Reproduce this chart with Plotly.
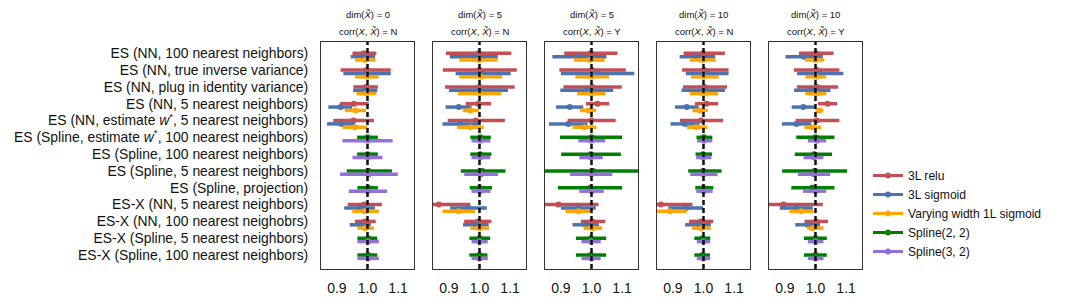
import plotly.graph_objects as go
from plotly.subplots import make_subplots

row_labels = [
    "ES (NN, 100 nearest neighbors)",
    "ES (NN, true inverse variance)",
    "ES (NN, plug in identity variance)",
    "ES (NN, 5 nearest neighbors)",
    "ES (NN, estimate <i>w</i><sup>*</sup>, 5 nearest neighbors)",
    "ES (Spline, estimate <i>w</i><sup>*</sup>, 100 nearest neighbors)",
    "ES (Spline, 100 nearest neighbors)",
    "ES (Spline, 5 nearest neighbors)",
    "ES (Spline, projection)",
    "ES-X (NN, 5 nearest neighbors)",
    "ES-X (NN, 100 nearest neighobrs)",
    "ES-X (Spline, 5 nearest neighbors)",
    "ES-X (Spline, 100 nearest neighbors)",
]
panel_dim = ["0", "5", "5", "10", "10"]
panel_corr = ["N", "N", "Y", "N", "Y"]
nn_rows = [0, 1, 2, 3, 4, 9, 10]
spline_rows = [5, 6, 7, 8, 11, 12]
x_ticks = [0.9, 1.0, 1.1]
x_ticklabels = ["0.9", "1.0", "1.1"]

# ---- 3L relu (NN rows), one list per panel ----
relu_mean = [
    [0.989, 0.997, 0.995, 0.955, 0.954, 0.989, 0.991],
    [0.997, 1.000, 1.000, 0.996, 0.988, 0.867, 0.995],
    [0.997, 1.002, 1.002, 1.020, 0.999, 0.892, 1.002],
    [0.999, 1.002, 1.003, 1.010, 0.992, 0.861, 0.991],
    [1.002, 1.004, 1.005, 1.039, 1.004, 0.896, 1.002],
]
relu_lo = [
    [0.951, 0.912, 0.954, 0.910, 0.888, 0.935, 0.959],
    [0.890, 0.880, 0.887, 0.955, 0.896, 0.760, 0.950],
    [0.911, 0.895, 0.908, 0.982, 0.922, 0.800, 0.965],
    [0.935, 0.930, 0.933, 0.972, 0.923, 0.800, 0.953],
    [0.946, 0.929, 0.939, 1.008, 0.935, 0.820, 0.964],
]
relu_hi = [
    [1.029, 1.076, 1.034, 1.004, 1.021, 1.047, 1.027],
    [1.104, 1.122, 1.115, 1.038, 1.083, 0.970, 1.039],
    [1.085, 1.112, 1.099, 1.058, 1.079, 1.023, 1.045],
    [1.070, 1.082, 1.077, 1.048, 1.064, 0.964, 1.032],
    [1.059, 1.078, 1.074, 1.071, 1.078, 1.024, 1.041],
]

# ---- 3L sigmoid ----
sig_mean = [
    [0.983, 0.997, 0.992, 0.912, 0.915, 0.973, 0.975],
    [0.983, 1.011, 0.997, 0.932, 0.937, 0.964, 0.988],
    [0.960, 1.021, 0.985, 0.929, 0.924, 0.958, 0.980],
    [0.978, 1.013, 0.998, 0.945, 0.940, 0.943, 0.982],
    [0.962, 1.015, 0.989, 0.960, 0.938, 0.939, 0.975],
]
sig_lo = [
    [0.945, 0.921, 0.953, 0.872, 0.868, 0.924, 0.942],
    [0.903, 0.922, 0.900, 0.889, 0.879, 0.904, 0.946],
    [0.872, 0.900, 0.898, 0.884, 0.861, 0.900, 0.938],
    [0.922, 0.942, 0.928, 0.907, 0.892, 0.885, 0.940],
    [0.902, 0.940, 0.930, 0.922, 0.890, 0.883, 0.934],
]
sig_hi = [
    [1.025, 1.076, 1.032, 0.950, 0.959, 1.024, 1.011],
    [1.060, 1.102, 1.093, 0.974, 0.997, 1.024, 1.030],
    [1.049, 1.140, 1.071, 0.973, 0.987, 1.014, 1.024],
    [1.038, 1.082, 1.070, 0.984, 0.987, 0.999, 1.024],
    [1.024, 1.091, 1.049, 0.999, 0.986, 0.991, 1.015],
]

# ---- Varying width 1L sigmoid ----
vw_mean = [
    [0.993, 0.999, 0.997, 0.961, 0.959, 0.991, 0.993],
    [0.999, 1.004, 1.000, 0.970, 0.970, 0.932, 1.000],
    [0.995, 1.000, 1.000, 0.989, 0.977, 0.958, 1.003],
    [0.998, 1.001, 1.000, 0.988, 0.977, 0.891, 0.993],
    [1.000, 1.002, 1.002, 1.013, 0.990, 0.953, 0.991],
]
vw_lo = [
    [0.959, 0.959, 0.964, 0.926, 0.918, 0.950, 0.967],
    [0.934, 0.934, 0.930, 0.945, 0.927, 0.879, 0.970],
    [0.943, 0.947, 0.953, 0.962, 0.938, 0.915, 0.975],
    [0.955, 0.959, 0.955, 0.964, 0.946, 0.830, 0.962],
    [0.966, 0.967, 0.967, 1.000, 0.964, 0.915, 0.973],
]
vw_hi = [
    [1.026, 1.037, 1.029, 0.995, 0.999, 1.037, 1.021],
    [1.059, 1.074, 1.071, 0.998, 1.014, 0.985, 1.032],
    [1.043, 1.057, 1.046, 1.016, 1.016, 0.999, 1.035],
    [1.040, 1.050, 1.048, 1.014, 1.013, 0.945, 1.024],
    [1.029, 1.035, 1.035, 1.026, 1.018, 0.993, 1.026],
]

# ---- Spline(2, 2) (spline rows) ----
s22_mean = [
    [1.000, 1.000, 1.004, 1.002, 1.002, 1.002],
    [1.002, 1.002, 1.009, 1.000, 1.000, 1.000],
    [1.000, 0.998, 1.005, 0.996, 0.998, 0.998],
    [1.001, 0.999, 0.999, 1.000, 0.997, 0.997],
    [1.000, 0.995, 0.997, 0.989, 1.000, 1.000],
]
s22_lo = [
    [0.966, 0.966, 0.932, 0.967, 0.967, 0.967],
    [0.970, 0.970, 0.939, 0.968, 0.967, 0.967],
    [0.897, 0.901, 0.820, 0.890, 0.949, 0.949],
    [0.977, 0.974, 0.950, 0.973, 0.970, 0.970],
    [0.937, 0.932, 0.891, 0.921, 0.962, 0.962],
]
s22_hi = [
    [1.034, 1.034, 1.080, 1.034, 1.032, 1.032],
    [1.037, 1.039, 1.085, 1.041, 1.035, 1.026],
    [1.100, 1.096, 1.190, 1.100, 1.048, 1.048],
    [1.029, 1.028, 1.059, 1.032, 1.022, 1.021],
    [1.062, 1.054, 1.103, 1.062, 1.037, 1.037],
]

# ---- Spline(3, 2) ----
s32_mean = [
    [1.000, 1.000, 1.004, 1.000, 1.002, 1.002],
    [1.002, 1.002, 1.005, 1.002, 1.000, 1.000],
    [1.000, 0.998, 1.000, 1.000, 0.998, 1.000],
    [1.001, 0.999, 1.000, 1.000, 0.999, 0.999],
    [1.004, 0.995, 0.995, 1.000, 1.000, 1.000],
]
s32_lo = [
    [0.918, 0.951, 0.910, 0.939, 0.967, 0.967],
    [0.974, 0.974, 0.950, 0.974, 0.974, 0.974],
    [0.957, 0.960, 0.930, 0.960, 0.967, 0.967],
    [0.979, 0.976, 0.957, 0.976, 0.978, 0.978],
    [0.975, 0.961, 0.942, 0.959, 0.975, 0.975],
]
s32_hi = [
    [1.082, 1.049, 1.099, 1.064, 1.037, 1.037],
    [1.035, 1.035, 1.061, 1.036, 1.027, 1.027],
    [1.045, 1.037, 1.068, 1.040, 1.030, 1.030],
    [1.029, 1.026, 1.046, 1.030, 1.022, 1.022],
    [1.035, 1.026, 1.048, 1.035, 1.026, 1.026],
]

series = [
    ("3L relu", "#C44E52", nn_rows, 0, relu_mean, relu_lo, relu_hi),
    ("3L sigmoid", "#4C72B0", nn_rows, 1, sig_mean, sig_lo, sig_hi),
    ("Varying width 1L sigmoid", "#FFA500", nn_rows, 2, vw_mean, vw_lo, vw_hi),
    ("Spline(2, 2)", "#008000", spline_rows, 0, s22_mean, s22_lo, s22_hi),
    ("Spline(3, 2)", "#9370DB", spline_rows, 1, s32_mean, s32_lo, s32_hi),
]

FONT = "Liberation Sans, Arial, sans-serif"
fig = make_subplots(rows=1, cols=5, shared_yaxes=True, horizontal_spacing=19 / 541)

for p in range(5):
    for name, color, rows, k, mean, lo, hi in series:
        m = mean[p]
        ys = [r + 0.2 * k for r in rows]
        fig.add_trace(
            go.Scatter(
                x=m, y=ys, mode="markers",
                marker=dict(color=color, size=6),
                error_x=dict(type="data", symmetric=False,
                             array=[h - v for h, v in zip(hi[p], m)],
                             arrayminus=[v - l for v, l in zip(m, lo[p])],
                             color=color, thickness=3.5, width=0),
                showlegend=False, hoverinfo="skip",
            ),
            row=1, col=p + 1,
        )
    ax = "" if p == 0 else str(p + 1)
    fig.add_shape(type="line", xref="x" + ax, yref="y" + ax + " domain",
                  x0=1.0, x1=1.0, y0=0, y1=1, layer="above",
                  line=dict(color="#111111", width=2.5, dash="5px,3px"))
    fig.add_annotation(xref="x" + ax + " domain", yref="paper", x=0.5, y=1.119,
                       text="dim(<i>X̃</i>) = " + panel_dim[p], showarrow=False,
                       yanchor="middle", font=dict(size=9.5, color="#111", family=FONT))
    fig.add_annotation(xref="x" + ax + " domain", yref="paper", x=0.5, y=1.048,
                       text="corr(<i>X</i>, <i>X̃</i>) = " + panel_corr[p], showarrow=False,
                       yanchor="middle", font=dict(size=9.5, color="#111", family=FONT))

for name, color, rows, k, mean, lo, hi in series:
    fig.add_trace(go.Scatter(x=[None], y=[None], mode="lines+markers", name=name,
                             line=dict(color=color, width=3),
                             marker=dict(color=color, size=6)))

fig.update_xaxes(range=[0.848, 1.152], tickvals=x_ticks, ticktext=x_ticklabels,
                 showgrid=False, zeroline=False, showline=True, mirror=True,
                 linecolor="#333", linewidth=1, ticks="", ticklabelstandoff=6,
                 automargin=False,
                 tickfont=dict(size=14, color="#111", family=FONT))
fig.update_yaxes(range=[12.83, -0.67], tickvals=list(range(13)), showgrid=False,
                 zeroline=False, showline=True, mirror=True, linecolor="#333",
                 linewidth=1, ticks="", automargin=False)
fig.update_yaxes(ticktext=row_labels, ticklabelstandoff=9,
                 tickfont=dict(size=13.9, color="#111", family=FONT), row=1, col=1)

fig.update_layout(
    width=1080, height=301,
    margin=dict(l=321, r=218, t=42, b=32),
    plot_bgcolor="white", paper_bgcolor="white",
    font=dict(family=FONT, color="#111"),
    legend=dict(xref="container", yref="container", x=868 / 1080, y=1 - 161 / 301,
                xanchor="left", yanchor="top", font=dict(size=12.1, family=FONT, color="#111"),
                itemwidth=30, bgcolor="rgba(0,0,0,0)", tracegroupgap=0),
)

fig.write_html("out.html", config={"displayModeBar": False},
               post_script="document.body.style.margin='0';")
